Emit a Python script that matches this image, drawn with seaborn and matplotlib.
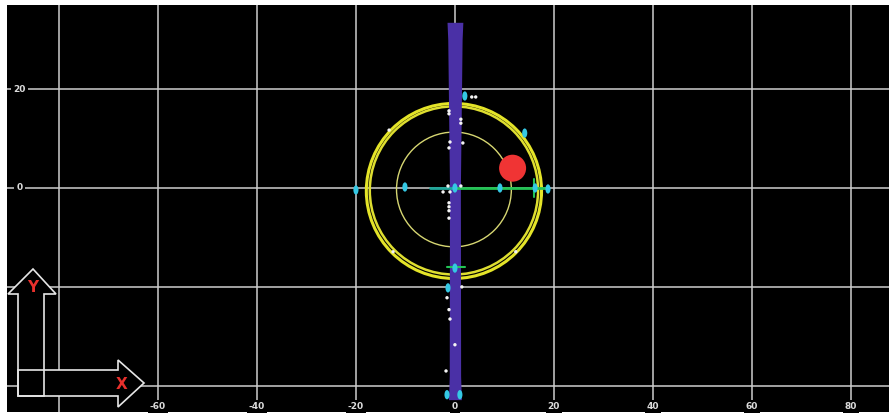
import numpy as np
import pandas as pd
import seaborn as sns
import matplotlib.pyplot as plt
import matplotlib.transforms as mtransforms
from matplotlib.patches import Circle, Polygon
import matplotlib.path as mpath

sns.set_theme(style="dark")
plt.rcParams['font.family'] = ['DejaVu Sans']

# grid / tick values
grid_x = [-80, -60, -40, -20, 0, 20, 40, 60, 80]
grid_y = [-40, -20, 0, 20]
x_labels = [-60, -40, -20, 0, 20, 40, 60, 80]
y_labels = [0, 20]

# detector rings (centre x, centre y, radius, width)
ring_cx = [-0.2, -0.2, -0.2]
ring_cy = [-0.6, -0.5, -0.3]
ring_r = [17.7, 17.0, 11.6]
ring_lw = [2.2, 1.8, 1.0]
ring_col = ['#e4e428', '#dede30', '#d6d672']

# beam band (purple)
band_y = [33.5, 30.0, 0.0, -38.0, -42.8]
band_hw = [1.6, 1.45, 1.1, 1.15, 1.3]

# cyan hits
hit_x = [-20.0, -10.1, 0.0, 9.1, 16.2, 18.8, 14.1, 2.0, 0.0, -1.4, -1.6, 1.0]
hit_y = [-0.4, 0.2, 0.0, 0.0, 0.0, -0.2, 11.1, 18.6, -16.2, -20.2, -41.8, -41.8]

# white dots
dot_x = [-1.2, -1.2, 1.2, 1.2, -1.0, 1.6, -1.2, -1.4, 1.2, -1.2, -1.2, -1.2, -1.2,
         1.4, -1.6, -1.2, -1.0, 0.0, -1.8, -13.3, -12.5, 12.3, 3.4, 4.2, -2.4, -1.0]
dot_y = [15.6, 15.0, 13.9, 13.1, 9.3, 9.1, 8.1, 0.4, 0.4, -3.0, -3.8, -4.6, -6.1,
         -20.0, -22.2, -24.6, -26.5, -31.7, -37.0, 11.7, -12.9, -12.9, 18.4, 18.4, -0.8, -0.8]

# track (green) and red cluster
track_x = [-5.0, 0.0, 18.5]
track_y = [0.0, 0.0, 0.0]
red_x, red_y, red_r = 11.65, 4.0, 2.73

fig = plt.figure(figsize=(8.91, 4.15), dpi=100, facecolor='white')
ax = fig.add_axes([7 / 891, 3 / 415, 882 / 891, 407 / 415])
ax.set_facecolor('black')
ax.set_xlim(-90.5, 87.7)
ax.set_ylim(-45.3, 37.0)
for s in ax.spines.values():
    s.set_visible(False)
ax.set_xticks([])
ax.set_yticks([])

# grid
ax.vlines(grid_x, -45.3, 37.0, color='#cdcdcd', lw=1.1, zorder=1)
ax.hlines(grid_y, -90.5, 87.7, color='#cdcdcd', lw=1.1, zorder=1)
lab_kw = dict(color='#dcdcdc', fontsize=6.5, fontweight='bold', zorder=3,
              bbox=dict(facecolor='black', edgecolor='none', pad=1.5))
for v in x_labels:
    ax.text(v, -44.2, str(v), ha='center', va='center', **lab_kw)
for v in y_labels:
    ax.text(-88.0, v, str(v), ha='center', va='center', **lab_kw)

# rings
for cx, cy, r, lw, c in zip(ring_cx, ring_cy, ring_r, ring_lw, ring_col):
    ax.add_patch(Circle((cx, cy), r, fill=False, edgecolor=c, lw=lw, zorder=2))

# beam band
ax.fill_betweenx(band_y, [-h for h in band_hw], band_hw, color='#4a30a6', lw=0, zorder=4)

# track
sns.lineplot(x=track_x[:2], y=track_y[:2], color='#1fa79a', lw=2, ax=ax, zorder=5)
sns.lineplot(x=track_x[1:], y=track_y[1:], color='#22c455', lw=2, ax=ax, zorder=5)
ax.plot([16.0, 16.0], [-1.8, 1.8], color='#22c455', lw=1.5, zorder=5)
ax.plot([-1.6, 2.0], [-16.0, -16.0], color='#22c455', lw=1.5, zorder=5)

# red cluster
ax.add_patch(Circle((red_x, red_y), red_r, color='#f03434', lw=0, zorder=6))

# hits
ell = mpath.Path.unit_circle().transformed(mtransforms.Affine2D().scale(0.55, 1.0))
hits = pd.DataFrame({'x': hit_x, 'y': hit_y})
sns.scatterplot(data=hits, x='x', y='y', marker=ell, s=45, color='#34c8e4',
                edgecolor='none', ax=ax, zorder=7)
dots = pd.DataFrame({'x': dot_x, 'y': dot_y})
sns.scatterplot(data=dots, x='x', y='y', s=6, color='#f4f4f4',
                edgecolor='none', ax=ax, zorder=8)
ax.set_xlabel('')
ax.set_ylabel('')


# axis-orientation arrows (pixel positions -> axes fraction)
def px(x, y):
    return ((x - 7) / 882, (412 - y) / 407)


y_arrow = [px(18, 396), px(18, 294), px(8, 294), px(33, 269), px(56, 294), px(44, 294), px(44, 396)]
x_arrow = [px(18, 370), px(118, 370), px(118, 360), px(144, 383), px(118, 407), px(118, 396), px(18, 396)]
for shape in (y_arrow, x_arrow):
    ax.add_patch(Polygon(shape, closed=True, transform=ax.transAxes,
                         facecolor='black', edgecolor='none', zorder=9))
for shape in (y_arrow, x_arrow):
    ax.add_patch(Polygon(shape, closed=True, transform=ax.transAxes,
                         fill=False, edgecolor='#e6e6e6', lw=1.2, zorder=10))
ax.text(*px(33, 288), 'Y', transform=ax.transAxes, color='#e8302c', fontsize=11,
        fontweight='bold', ha='center', va='center', zorder=11)
ax.text(*px(122, 384), 'X', transform=ax.transAxes, color='#e8302c', fontsize=11,
        fontweight='bold', ha='center', va='center', zorder=11)

fig.savefig('out.png', dpi=100, facecolor='white')
